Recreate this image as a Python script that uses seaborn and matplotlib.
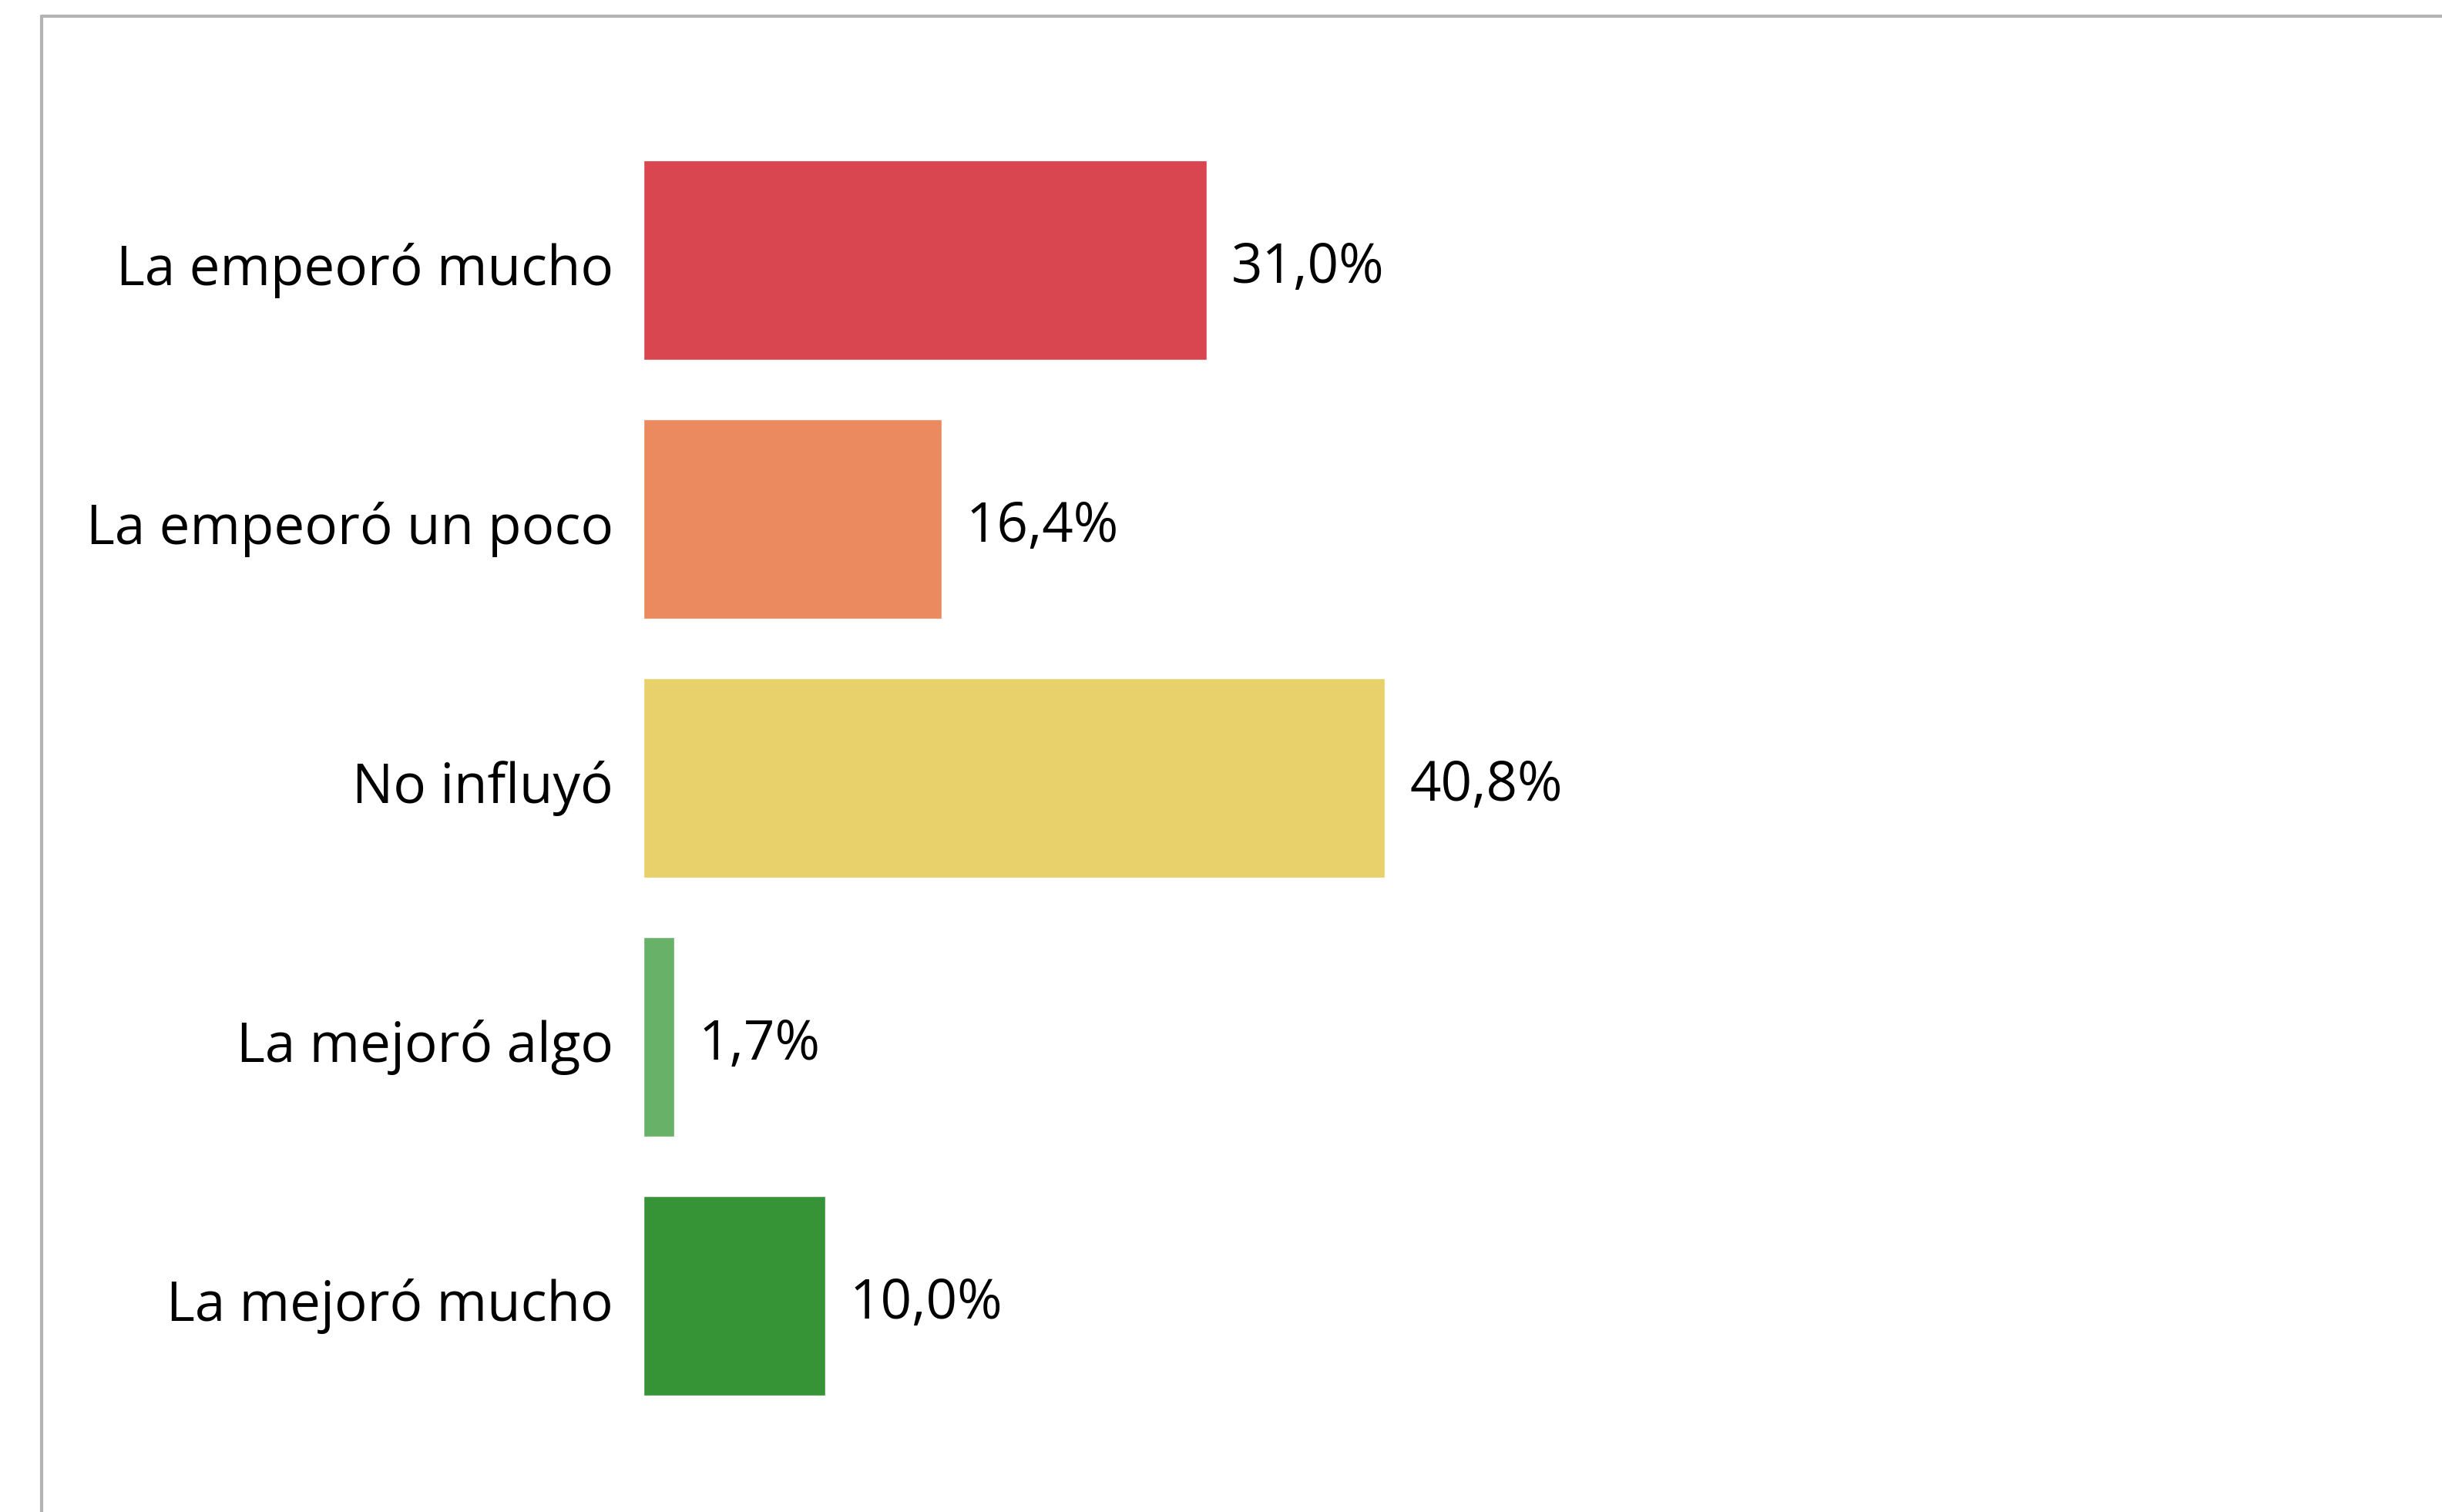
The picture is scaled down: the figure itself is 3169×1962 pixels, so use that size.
import matplotlib
matplotlib.use("Agg")
import matplotlib.pyplot as plt
import matplotlib.transforms as mtransforms
import seaborn as sns
from matplotlib.lines import Line2D

# Data
categorias = ["La empeoró mucho", "La empeoró un poco", "No influyó",
              "La mejoró algo", "La mejoró mucho"]
porcentajes = [31.0, 16.4, 40.8, 1.7, 10.0]
colores = ["#D9464F", "#EB8A5F", "#E8D16A", "#67B168", "#369436"]

sns.set_style("white")
plt.rcParams["font.family"] = ["Open Sans", "DejaVu Sans"]

W, H = 3169, 1962
fig = plt.figure(figsize=(W / 100, H / 100), dpi=100)
fig.patch.set_facecolor("white")

# axes placed so bars land where they are in the reference
left = 835 / W
bottom = 1 - 1849.5 / H
ax = fig.add_axes([left, bottom, 1 - left, 1680 / H])

sns.barplot(x=porcentajes, y=categorias, hue=categorias, palette=colores,
            width=0.77, legend=False, orient="h", saturation=1, ax=ax)

ax.set_xlim(0, 98.98)
ax.set_ylim(4.5, -0.5)
ax.set_xticks([])
ax.set_xlabel("")
ax.set_ylabel("")
for s in ax.spines.values():
    s.set_visible(False)
ax.tick_params(axis="y", length=0, pad=28, labelsize=51, labelcolor="black")

# nudge category text down a little
shift = mtransforms.ScaledTranslation(0, -5 / 100, fig.dpi_scale_trans)
for lbl in ax.get_yticklabels():
    lbl.set_transform(lbl.get_transform() + shift)

for cont in ax.containers:
    txts = ax.bar_label(cont, labels=[f"{v:.1f}%".replace(".", ",") for v in cont.datavalues],
                        padding=23, fontsize=51, color="black")
    for t in txts:
        t.xyann = (t.xyann[0], -8)

# gray frame lines (top and left)
fig.add_artist(Line2D([54 / W, 1], [1 - 21 / H, 1 - 21 / H], color="#b3b3b3",
                      linewidth=3, transform=fig.transFigure))
fig.add_artist(Line2D([54 / W, 54 / W], [0, 1 - 21 / H], color="#b3b3b3",
                      linewidth=3, transform=fig.transFigure))

fig.savefig("out.png", dpi=100)
